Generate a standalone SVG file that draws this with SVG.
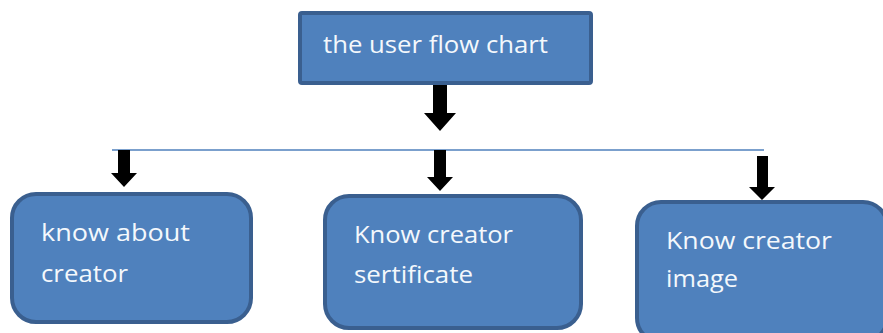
<svg xmlns="http://www.w3.org/2000/svg" width="883" height="333" viewBox="0 0 883 333">
<style>
.box{fill:#4F81BD;stroke:#3A5F8F;stroke-width:4}
.lbl{font-family:"Open Sans","Liberation Sans",sans-serif;font-size:23px;fill:#F4F8FC}
.arrow{fill:#000}
.hline{stroke:#4F81BD;stroke-width:1.5;fill:none}
</style>
<rect width="883" height="333" fill="#fff"/>
<g id="connectors">
<line class="hline" x1="112" y1="150" x2="764" y2="150"/>
<polygon class="arrow" points="433,84 447,84 447,113 456,113 440,131 424,113 433,113"/>
<polygon class="arrow" points="118,150 130,150 130,173 137,173 124,187 111,173 118,173"/>
<polygon class="arrow" points="434,150 446,150 446,177 453,177 440,191 427,177 434,177"/>
<polygon class="arrow" points="757,156 768,156 768,187 775,187 762,200 749,187 757,187"/>
</g>
<g id="top">
<rect class="box" x="300" y="13" width="291" height="70" rx="2"/>
<text class="lbl" x="323" y="53" textLength="225" lengthAdjust="spacingAndGlyphs">the user flow chart</text>
</g>
<g id="n1">
<rect class="box" x="12" y="194" width="239" height="128" rx="24"/>
<text class="lbl" x="41" y="241" textLength="149" lengthAdjust="spacingAndGlyphs">know about</text>
<text class="lbl" x="41" y="282" textLength="87" lengthAdjust="spacingAndGlyphs">creator</text>
</g>
<g id="n2">
<rect class="box" x="325" y="196" width="256" height="132" rx="24"/>
<text class="lbl" x="354" y="243" textLength="159" lengthAdjust="spacingAndGlyphs">Know creator</text>
<text class="lbl" x="354" y="283" textLength="119" lengthAdjust="spacingAndGlyphs">sertificate</text>
</g>
<g id="n3">
<rect class="box" x="637" y="202" width="250" height="140" rx="24"/>
<text class="lbl" x="666" y="249" textLength="166" lengthAdjust="spacingAndGlyphs">Know creator</text>
<text class="lbl" x="666" y="287" textLength="72" lengthAdjust="spacingAndGlyphs">image</text>
</g>
</svg>
